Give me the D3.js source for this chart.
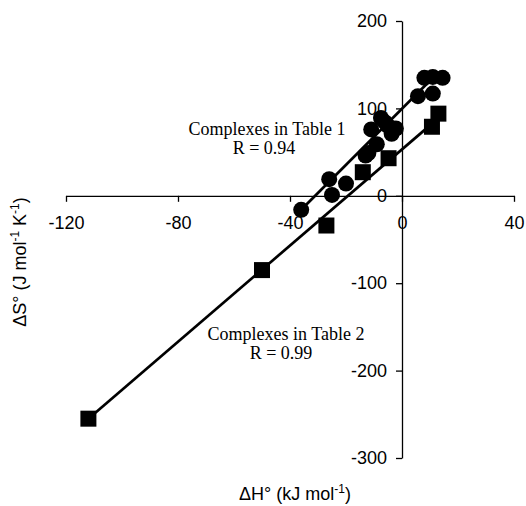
<!DOCTYPE html>
<html>
  <head>
    <meta charset="utf-8">
    <title>dS vs dH</title>
    <script src="https://d3js.org/d3.v7.min.js"></script>
    <style>
      body { margin: 0; background: #fff; }
      svg text { fill: #000; }
      .tick text { font-family: "Liberation Sans", Arial, sans-serif; font-size: 18px; }
      .note { font-family: "Liberation Serif", "Times New Roman", serif; font-size: 18px; text-anchor: middle; }
      .title { font-family: "Liberation Sans", Arial, sans-serif; font-size: 18px; }
    </style>
  </head>
  <body>
    <svg id="chart" width="526" height="506"></svg>
    <script>
      // complexes in table 1 (circles), [dH, dS]
      var table1 = [
        [-36, -16], [-26, 19], [-25, 1], [-20, 14],
        [-13, 46], [-12, 49], [-9, 59], [-11, 76],
        [-7.5, 89], [-6, 84], [-5, 80], [-3.7, 71], [-2.2, 77],
        [5.7, 114], [11, 117], [8, 135], [11, 136], [14.5, 135]
      ];
      // complexes in table 2 (squares)
      var table2 = [
        [-112, -255], [-50, -85], [-27, -34], [-14, 27],
        [-4.8, 43], [10.7, 79], [13, 94]
      ];
      // fitted lines, end points
      var fit1 = [[-36, -16], [8.8, 128]];
      var fit2 = [[-112, -255], [10.5, 82]];
      var xTicks = [-120, -80, -40, 0, 40];
      var yTicks = [-300, -200, -100, 0, 100, 200];

      var svg = d3.select("#chart");
      var x = d3.scaleLinear().domain([-120, 40]).range([66, 514]);
      var y = d3.scaleLinear().domain([-300, 200]).range([458, 21]);

      // axes cross at the origin
      var xAxis = svg.append("g")
        .attr("transform", "translate(0," + y(0) + ")")
        .call(d3.axisBottom(x).tickValues(xTicks).tickSize(6).tickPadding(14).tickSizeOuter(0));
      var yAxis = svg.append("g")
        .attr("transform", "translate(" + x(0) + ",0)")
        .call(d3.axisLeft(y).tickValues(yTicks).tickSize(6).tickPadding(9).tickSizeOuter(0));
      svg.selectAll(".domain, .tick line").attr("stroke", "#000").attr("stroke-width", 1.3);
      svg.selectAll(".tick text").attr("font-family", null).attr("font-size", null)
        .text(function(d) { return d < 0 ? "-" + Math.abs(d) : d; });

      // regression lines
      var line = d3.line().x(function(d) { return x(d[0]); }).y(function(d) { return y(d[1]); });
      svg.selectAll(".fit")
        .data([fit1, fit2])
        .enter().append("path")
          .attr("class", "fit")
          .attr("d", line)
          .attr("fill", "none")
          .attr("stroke", "#000")
          .attr("stroke-width", 2.7);

      // markers
      svg.selectAll(".circ")
        .data(table1)
        .enter().append("circle")
          .attr("cx", function(d) { return x(d[0]); })
          .attr("cy", function(d) { return y(d[1]); })
          .attr("r", 8)
          .attr("fill", "#000");
      svg.selectAll(".sq")
        .data(table2)
        .enter().append("rect")
          .attr("x", function(d) { return x(d[0]) - 8; })
          .attr("y", function(d) { return y(d[1]) - 8; })
          .attr("width", 16)
          .attr("height", 16)
          .attr("fill", "#000");

      // notes
      svg.append("text").attr("class", "note").attr("x", 267).attr("y", 135).text("Complexes in Table 1");
      svg.append("text").attr("class", "note").attr("x", 264).attr("y", 154).text("R = 0.94");
      svg.append("text").attr("class", "note").attr("x", 286).attr("y", 340).text("Complexes in Table 2");
      svg.append("text").attr("class", "note").attr("x", 281).attr("y", 359).text("R = 0.99");

      // axis titles
      var xt = svg.append("text").attr("class", "title")
        .attr("x", 295).attr("y", 500).attr("text-anchor", "middle");
      xt.append("tspan").text("\u0394H\u00b0 (kJ mol");
      xt.append("tspan").attr("font-size", "12px").attr("dy", -7).text("-1");
      xt.append("tspan").attr("dy", 7).text(")");

      var yt = svg.append("text").attr("class", "title")
        .attr("transform", "translate(26,262) rotate(-90)").attr("text-anchor", "middle");
      yt.append("tspan").text("\u0394S\u00b0 (J mol");
      yt.append("tspan").attr("font-size", "12px").attr("dy", -7).text("-1");
      yt.append("tspan").attr("dy", 7).text(" K");
      yt.append("tspan").attr("font-size", "12px").attr("dy", -7).text("-1");
      yt.append("tspan").attr("dy", 7).text(")");
    </script>
  </body>
</html>
